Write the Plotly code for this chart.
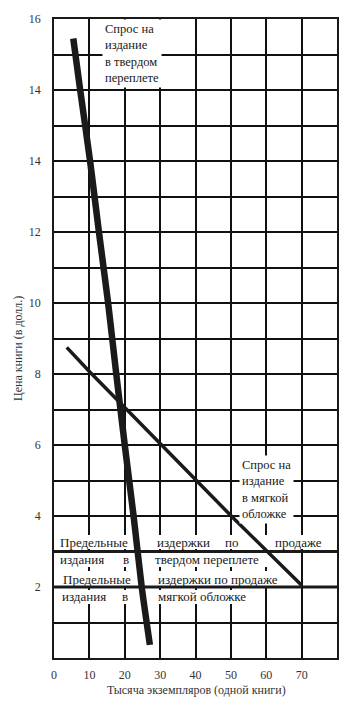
import plotly.graph_objects as go

# ---- data ----
hard_x = [5.45, 7.4, 10.2, 12.7, 15.3, 17.6, 20.0, 22.5, 24.8, 27.1]
hard_y = [17.45, 16, 14, 12, 10, 8, 6, 4, 2, 0.37]

soft_x = [3.6, 10.2, 19.1, 50.6, 70.0]
soft_y = [8.75, 8.05, 7.15, 3.95, 2.05]

mc_x = [0, 80]
mc_hard_y = [3, 3]
mc_soft_y = [2, 2]

x_ticks = [0, 10, 20, 30, 40, 50, 60, 70]
y_tickvals = [2, 4, 6, 8, 10, 12, 14, 16, 18]
y_ticktext = ["2", "4", "6", "8", "10", "12", "14", "14", "16"]

FONT = "Times New Roman, Liberation Serif, DejaVu Serif, serif"
INK = "#1a1a1a"
GRID = "#111111"

fig = go.Figure()
fig.add_trace(go.Scatter(x=mc_x, y=mc_hard_y, mode="lines",
                         line=dict(color=INK, width=3), hoverinfo="skip"))
fig.add_trace(go.Scatter(x=mc_x, y=mc_soft_y, mode="lines",
                         line=dict(color=INK, width=3), hoverinfo="skip"))
fig.add_trace(go.Scatter(x=soft_x, y=soft_y, mode="lines",
                         line=dict(color=INK, width=3.5), hoverinfo="skip"))
fig.add_trace(go.Scatter(x=hard_x, y=hard_y, mode="lines",
                         line=dict(color=INK, width=6.5, shape="spline", smoothing=0.6),
                         hoverinfo="skip"))


def px_x(p):
    return (p - 54) / 283 * 80


def px_y(p):
    return (658 - p) / 639 * 18


# white patches under the marginal-cost text rows (hide grid, stay under the curves)
patches = [
    (55, 330, 535, 549),
    (55, 270, 553, 567),
    (55, 292, 571, 586),
    (55, 260, 590, 604),
]
for x0, x1, y0, y1 in patches:
    fig.add_shape(type="rect", layer="between", xref="x", yref="y",
                  x0=px_x(x0), x1=px_x(x1), y0=px_y(y1), y1=px_y(y0),
                  fillcolor="white", line=dict(width=0))

# multi-line demand labels (white background hides the grid)
fig.add_annotation(text="Спрос на<br>издание<br>в твердом<br>переплете",
                   x=px_x(102), y=px_y(53), xref="x", yref="y",
                   xanchor="left", yanchor="middle", align="left", showarrow=False,
                   bgcolor="white", borderpad=2,
                   font=dict(family=FONT, size=12.5, color=INK))
fig.add_annotation(text="Спрос на<br>издание<br>в мягкой<br>обложке",
                   x=px_x(239), y=px_y(489), xref="x", yref="y",
                   xanchor="left", yanchor="middle", align="left", showarrow=False,
                   bgcolor="white", borderpad=2,
                   font=dict(family=FONT, size=12.5, color=INK))

# marginal-cost labels, word groups placed as in the justified print
words = [
    ("Предельные", 58, 542), ("издержки", 155, 542), ("по", 223, 542), ("продаже", 273, 542),
    ("издания", 58, 559), ("в", 121, 559), ("твердом переплете", 153, 559),
    ("Предельные", 61, 579), ("издержки по продаже", 156, 579),
    ("издания", 60, 596), ("в", 120, 596), ("мягкой обложке", 156, 596),
]
for txt, lx, ly in words:
    fig.add_annotation(text=txt, x=px_x(lx), y=px_y(ly), xref="x", yref="y",
                       xanchor="left", yanchor="middle", showarrow=False,
                       font=dict(family=FONT, size=13, color=INK))

# axis titles
fig.add_annotation(text="Цена книги (в долл.)", xref="paper", yref="paper",
                   x=(18 - 54) / 283, y=(658 - 349) / 639, textangle=-90,
                   showarrow=False, xanchor="center", yanchor="middle",
                   font=dict(family=FONT, size=12, color="#333"))
fig.add_annotation(text="Тысяча экземпляров (одной книги)", xref="paper", yref="paper",
                   x=(196 - 54) / 283, y=(658 - 690) / 639,
                   showarrow=False, xanchor="center", yanchor="middle",
                   font=dict(family=FONT, size=12, color="#333"))

fig.update_layout(
    width=352, height=709,
    margin=dict(l=54, r=15, t=19, b=51),
    paper_bgcolor="white", plot_bgcolor="white",
    showlegend=False,
    xaxis=dict(range=[0, 80], tickmode="array", tickvals=x_ticks,
               showgrid=True, gridcolor=GRID, gridwidth=1.5,
               showline=True, linecolor=INK, linewidth=1.5, mirror=True, zeroline=False,
               ticks="outside", ticklen=5, tickcolor="white",
               tickfont=dict(family=FONT, size=12, color="#333"), fixedrange=True),
    yaxis=dict(range=[0, 18], tickmode="array", tickvals=y_tickvals, ticktext=y_ticktext,
               showgrid=True, gridcolor=GRID, gridwidth=1.5,
               minor=dict(dtick=1, showgrid=True, gridcolor=GRID, gridwidth=1.5),
               showline=True, linecolor=INK, linewidth=1.5, mirror=True, zeroline=False,
               ticks="outside", ticklen=9, tickcolor="white",
               tickfont=dict(family=FONT, size=12, color="#333"), fixedrange=True),
)

fig.write_html("out.html")
